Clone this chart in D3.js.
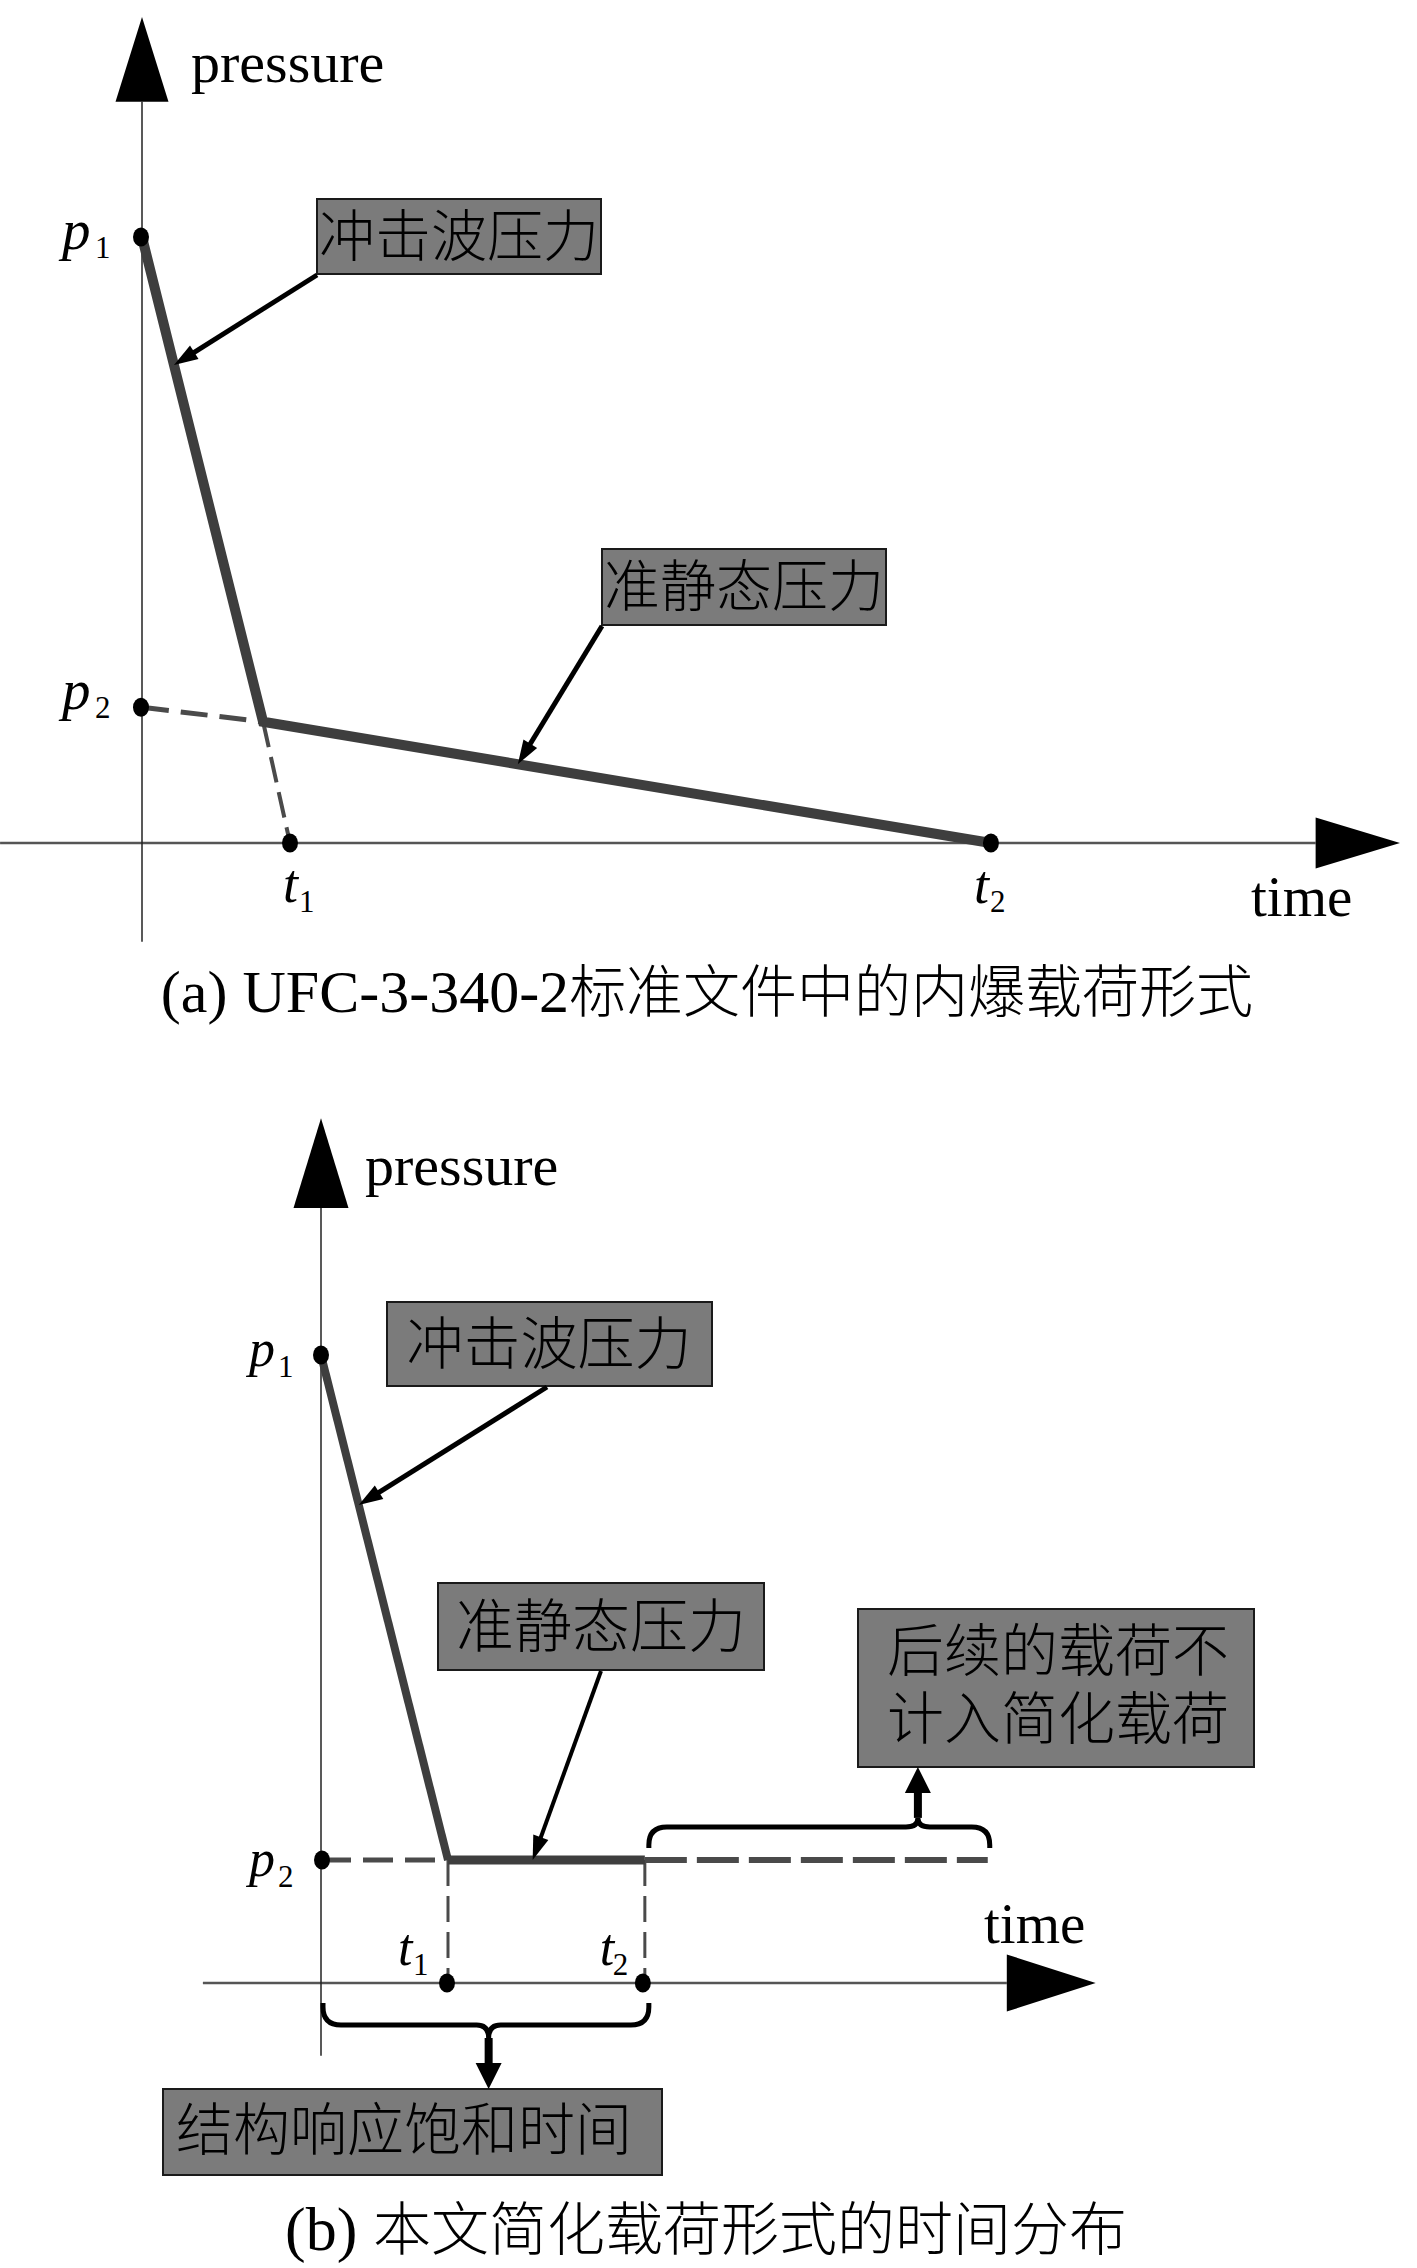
<!DOCTYPE html>
<html>
<head>
<meta charset="utf-8">
<script src="https://cdn.jsdelivr.net/npm/d3@7"></script>
<style>
  body { margin: 0; background: #fff; }
  text { font-family: 'Liberation Serif', 'Noto Sans CJK SC', serif; fill: #000; }
</style>
</head>
<body>
<script>
// (a) load form from UFC-3-340-2 (time, pressure in nominal units)
const pressureA = [1.0, 0.224];          // p1, p2
const timeA = [1.0, 5.736];              // t1, t2
const kneeA = [0.818, 0.2];              // where shock meets quasi-static line
const axisXA = [-0.959, 7.93, 8.5];      // start, arrow base, arrow tip
const axisYA = [-0.163, 1.223, 1.363];

// (b) simplified load used in the paper
const pressureB = [1.0, 0.196];
const timeB = [1.0, 2.55];
const tailEndB = 5.25;
const axisXB = [-0.93, 5.40, 6.10];
const axisYB = [-0.116, 1.234, 1.377];
const bracesB = [[2.55, 5.25, 4.70], [0, 2.55, 1.32]];   // from, to, cusp

const subs = ['1', '2'];
const axisNames = ['pressure', 'time'];
const notes = ['冲击波压力', '准静态压力', '后续的载荷不', '计入简化载荷', '结构响应饱和时间'];
const captions = [['(a) UFC-3-340-2', '标准文件中的内爆载荷形式'], ['(b) ', '本文简化载荷形式的时间分布']];

const width = 1417, height = 2268;
const svg = d3.select('body').append('svg')
  .attr('width', width)
  .attr('height', height);

const xA = d3.scaleLinear().domain([0, 1]).range([142, 290]);
const yA = d3.scaleLinear().domain([0, 1]).range([843, 237]);
const xB = d3.scaleLinear().domain([0, 1]).range([321, 448]);
const yB = d3.scaleLinear().domain([0, 1]).range([1983, 1355]);

const lineGray = '#3e3e3e';

function seg(g, pts, x, y, w, dash, color) {
  g.append('path')
    .attr('d', d3.line().x(d => x(d[0])).y(d => y(d[1]))(pts))
    .attr('fill', 'none')
    .attr('stroke', color || lineGray)
    .attr('stroke-width', w)
    .attr('stroke-dasharray', dash || null);
}

function axes(g, x, y, ax, ay, hx, hy) {
  g.append('line')
    .attr('x1', x(ax[0])).attr('x2', x(ax[1]))
    .attr('y1', y(0)).attr('y2', y(0))
    .attr('stroke', '#555').attr('stroke-width', 2.5);
  g.append('path')
    .attr('d', `M${x(ax[2])},${y(0)}L${x(ax[1])},${y(0) - hx}L${x(ax[1])},${y(0) + hx}Z`)
    .attr('fill', '#000');
  g.append('line')
    .attr('x1', x(0)).attr('x2', x(0))
    .attr('y1', y(ay[0])).attr('y2', y(ay[1]))
    .attr('stroke', '#222').attr('stroke-width', 1.5);
  g.append('path')
    .attr('d', `M${x(0)},${y(ay[2])}L${x(0) - hy},${y(ay[1])}L${x(0) + hy},${y(ay[1])}Z`)
    .attr('fill', '#000');
}

function pointer(g, from, tip, w, len, half) {
  const dx = tip[0] - from[0], dy = tip[1] - from[1], L = Math.hypot(dx, dy);
  const ux = dx / L, uy = dy / L;
  const bx = tip[0] - ux * len, by = tip[1] - uy * len;
  g.append('line')
    .attr('x1', from[0]).attr('y1', from[1])
    .attr('x2', bx + ux * 2).attr('y2', by + uy * 2)
    .attr('stroke', '#000').attr('stroke-width', w);
  g.append('path')
    .attr('d', `M${tip[0]},${tip[1]}L${bx - uy * half},${by + ux * half}L${bx + uy * half},${by - ux * half}Z`)
    .attr('fill', '#000');
}

function at(x, y, a, b, f) {
  return d3.interpolate([x(a[0]), y(a[1])], [x(b[0]), y(b[1])])(f);
}

function note(g, box, lines, size, cx, cy, gap) {
  g.append('rect')
    .attr('x', box[0]).attr('y', box[1])
    .attr('width', box[2]).attr('height', box[3])
    .attr('fill', '#7b7b7b')
    .attr('stroke', '#1a1a1a').attr('stroke-width', 2);
  lines.forEach((s, i) => {
    g.append('text')
      .attr('x', cx)
      .attr('y', cy + i * (gap || 0))
      .attr('text-anchor', 'middle')
      .attr('dominant-baseline', 'central')
      .attr('font-size', size)
      .attr('font-weight', 300)
      .text(s);
  });
}

function dot(g, cx, cy) {
  g.append('ellipse')
    .attr('cx', cx).attr('cy', cy)
    .attr('rx', 8).attr('ry', 9.5)
    .attr('fill', '#000');
}

function subLabel(g, x, y, main, sub, sdx, sdy, size) {
  g.append('text')
    .attr('x', x).attr('y', y)
    .attr('font-size', size || 52)
    .attr('font-style', 'italic')
    .text(main);
  g.append('text')
    .attr('x', x + sdx).attr('y', y + sdy)
    .attr('font-size', 31)
    .text(sub);
}

function brace(g, x0, x1, xc, yLeg, yBar, yCusp, r, rc) {
  const s = Math.sign(yLeg - yBar);
  const d = `M${x0},${yLeg}L${x0},${yBar + s * r}Q${x0},${yBar} ${x0 + r},${yBar}` +
    `L${xc - rc},${yBar}Q${xc},${yBar} ${xc},${yCusp}Q${xc},${yBar} ${xc + rc},${yBar}` +
    `L${x1 - r},${yBar}Q${x1},${yBar} ${x1},${yBar + s * r}L${x1},${yLeg}`;
  g.append('path')
    .attr('d', d)
    .attr('fill', 'none')
    .attr('stroke', '#000')
    .attr('stroke-width', 5);
}

// ---------- panel (a) ----------
const ga = svg.append('g');
axes(ga, xA, yA, axisXA, axisYA, 25.5, 26.5);

seg(ga, [[0, pressureA[1]], kneeA], xA, yA, 5, '27,12', '#4a4a4a');
seg(ga, [kneeA, [timeA[0], 0]], xA, yA, 4, '26,10', '#4a4a4a');
seg(ga, [[0, pressureA[0]], kneeA, [timeA[1], 0]], xA, yA, 10);

dot(ga, xA(0) - 1, yA(pressureA[0]));
dot(ga, xA(0) - 1, yA(pressureA[1]));
dot(ga, xA(timeA[0]), yA(0));
dot(ga, xA(timeA[1]), yA(0));

ga.append('text').attr('x', xA(0) + 49).attr('y', 82).attr('font-size', 58).text(axisNames[0]);
ga.append('text').attr('x', 1251).attr('y', yA(0) + 73).attr('font-size', 57).text(axisNames[1]);

subLabel(ga, xA(0) - 80, yA(pressureA[0]) + 12, 'p', subs[0], 33, 9, 57);
subLabel(ga, xA(0) - 80, yA(pressureA[1]) + 2, 'p', subs[1], 33, 9, 57);
subLabel(ga, xA(timeA[0]) - 7, yA(0) + 59, 't', subs[0], 16, 10, 54);
subLabel(ga, xA(timeA[1]) - 17, yA(0) + 60, 't', subs[1], 16, 9, 54);

note(ga, [317, 199, 284, 75], [notes[0]], 56, 459, 237);
note(ga, [602, 549, 284, 76], [notes[1]], 56, 744, 587);
pointer(ga, [317, 275], at(xA, yA, [0, pressureA[0]], kneeA, 0.264), 5, 24, 8);
pointer(ga, [602, 626], at(xA, yA, kneeA, [timeA[1], 0], 0.35), 5, 24, 8);

ga.append('text')
  .attr('x', 707).attr('y', 1012)
  .attr('text-anchor', 'middle')
  .call(t => {
    t.append('tspan').attr('font-size', 60).text(captions[0][0]);
    t.append('tspan').attr('font-size', 57).attr('font-weight', 300).text(captions[0][1]);
  });

// ---------- panel (b) ----------
const gb = svg.append('g');
axes(gb, xB, yB, axisXB, axisYB, 28.5, 27.5);

const p2 = pressureB[1];
seg(gb, [[0, p2], [timeB[0], p2]], xB, yB, 5, '30,12', '#4a4a4a');
seg(gb, [[timeB[1], p2], [tailEndB, p2]], xB, yB, 6, '42,10', '#4a4a4a');
seg(gb, [[timeB[0], p2], [timeB[0], 0]], xB, yB, 3, '26,10', '#4a4a4a');
seg(gb, [[timeB[1], p2], [timeB[1], 0]], xB, yB, 3, '26,10', '#4a4a4a');
seg(gb, [[0, pressureB[0]], [timeB[0], p2]], xB, yB, 8);
seg(gb, [[timeB[0], p2], [timeB[1], p2]], xB, yB, 9);

dot(gb, xB(0), yB(pressureB[0]));
dot(gb, xB(0) + 1, yB(p2));
dot(gb, xB(timeB[0]) - 1, yB(0));
dot(gb, xB(timeB[1]) - 2, yB(0));

gb.append('text').attr('x', xB(0) + 44).attr('y', 1185).attr('font-size', 58).text(axisNames[0]);
gb.append('text').attr('x', 984).attr('y', yB(0) - 40).attr('font-size', 57).text(axisNames[1]);

subLabel(gb, xB(0) - 72, yB(pressureB[0]) + 11, 'p', subs[0], 29, 11);
subLabel(gb, xB(0) - 72, yB(p2) + 16, 'p', subs[1], 29, 11);
subLabel(gb, xB(timeB[0]) - 50, yB(0) - 18, 't', subs[0], 15, 10);
subLabel(gb, xB(timeB[1]) - 45, yB(0) - 18, 't', subs[1], 13, 10);

note(gb, [387, 1302, 325, 84], [notes[0]], 57, 549, 1344);
note(gb, [438, 1583, 326, 87], [notes[1]], 58, 601, 1627);
note(gb, [858, 1609, 396, 158], [notes[2], notes[3]], 57, 1058, 1651, 68);
note(gb, [163, 2089, 499, 86], [notes[4]], 57, 404, 2130);

pointer(gb, [547, 1387], at(xB, yB, [0, pressureB[0]], [timeB[0], p2], 0.297), 5, 24, 8);
pointer(gb, [601, 1671], at(xB, yB, [timeB[0], p2], [timeB[1], p2], 0.43), 4, 24, 8);

// brace over the discarded tail, pointing up to its note
const up = bracesB[0];
const yLine = yB(p2);
brace(gb, xB(up[0]) + 4, xB(up[1]) + 2, xB(up[2]), yLine - 12, yLine - 33, yLine - 42, 18, 12);
pointer(gb, [xB(up[2]), yLine - 42], [xB(up[2]), 1767], 8, 26, 13);

// brace under the response window, pointing down to its note
const dn = bracesB[1];
const yAx = yB(0);
brace(gb, xB(dn[0]) + 2, xB(dn[1]) + 4, xB(dn[2]), yAx + 20, yAx + 42, yAx + 55, 18, 12);
pointer(gb, [xB(dn[2]), yAx + 55], [xB(dn[2]), 2089], 8, 26, 13);

gb.append('text')
  .attr('x', 706).attr('y', 2250)
  .attr('text-anchor', 'middle')
  .call(t => {
    t.append('tspan').attr('font-size', 62).text(captions[1][0]);
    t.append('tspan').attr('font-size', 58).attr('font-weight', 300).text(captions[1][1]);
  });
</script>
</body>
</html>
